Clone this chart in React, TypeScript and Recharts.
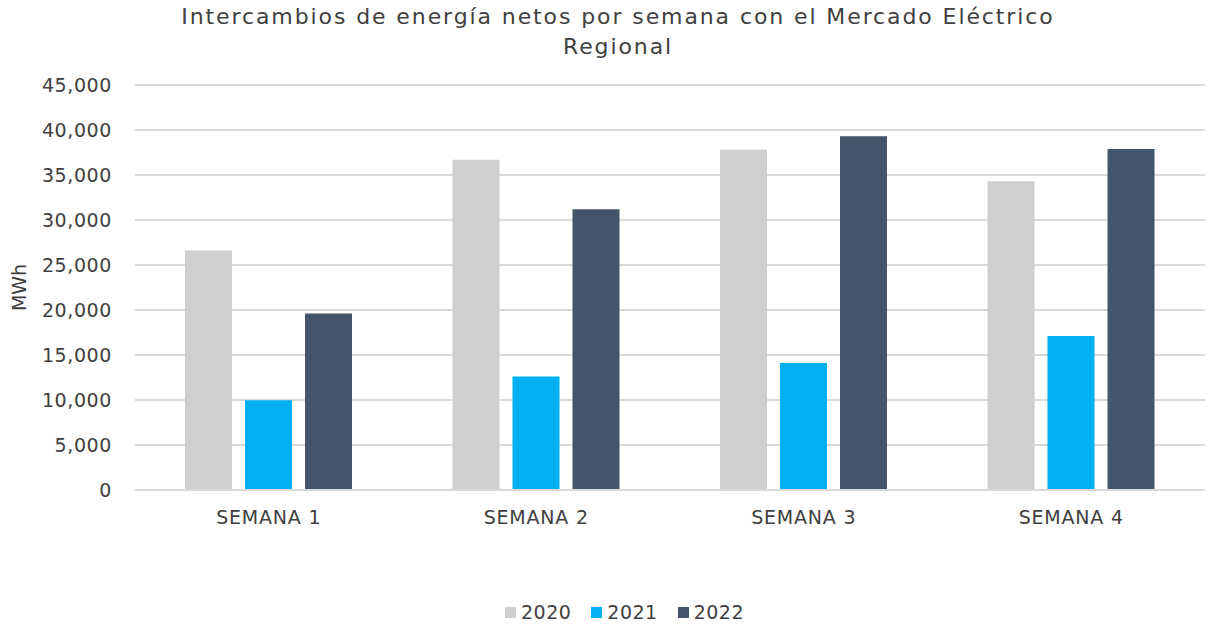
import { Bar, BarChart, CartesianGrid, Legend, XAxis, YAxis } from "recharts";

const weeks = ["SEMANA 1", "SEMANA 2", "SEMANA 3", "SEMANA 4"];
const values2020 = [26600, 36700, 37800, 34300];
const values2021 = [9970, 12600, 14100, 17100];
const values2022 = [19600, 31200, 39300, 37900];
const yTicks = [0, 5000, 10000, 15000, 20000, 25000, 30000, 35000, 40000, 45000];

const series = [
  { key: "2020", color: "#D0CECE" },
  { key: "2021", color: "#00B0F0" },
  { key: "2022", color: "#44546A" },
];

const data = weeks.map((week, i) => ({
  week,
  "2020": values2020[i],
  "2021": values2021[i],
  "2022": values2022[i],
}));

const font = "'DejaVu Sans', sans-serif";
const textColor = "#404040";

function LegendContent() {
  return (
    <div
      style={{
        display: "flex",
        justifyContent: "center",
        gap: 20,
        fontFamily: font,
        fontSize: 19,
        letterSpacing: 0.5,
        color: textColor,
        paddingLeft: 44,
      }}
    >
      {series.map((s) => (
        <span key={s.key} style={{ display: "flex", alignItems: "center", gap: 5 }}>
          <span style={{ width: 11, height: 11, background: s.color, display: "inline-block" }} />
          {s.key}
        </span>
      ))}
    </div>
  );
}

export default function App() {
  return (
    <div style={{ position: "absolute", left: 0, top: 0, width: 1209, height: 625, background: "#fff" }}>
      <div
        style={{
          position: "absolute",
          left: 163,
          width: 910,
          top: 2,
          textAlign: "center",
          fontFamily: font,
          fontSize: 22,
          letterSpacing: 1.9,
          lineHeight: "30px",
          color: textColor,
          zIndex: 1,
        }}
      >
        Intercambios de energía netos por semana con el Mercado Eléctrico Regional
      </div>
      <BarChart
        width={1209}
        height={625}
        data={data}
        margin={{ top: 85, right: 4, left: 0, bottom: 75 }}
        barSize={47}
        barGap={13}
      >
        <CartesianGrid vertical={false} stroke="#D9D9D9" strokeWidth={2} />
        <XAxis
          dataKey="week"
          tickLine={false}
          axisLine={{ stroke: "#D9D9D9", strokeWidth: 2 }}
          tick={{ fill: textColor, fontSize: 19, fontFamily: font, letterSpacing: 0.8 }}
          tickMargin={15}
        />
        <YAxis
          width={135}
          domain={[0, 45000]}
          ticks={yTicks}
          tickFormatter={(v: number) => v.toLocaleString("en-US")}
          tickLine={false}
          axisLine={false}
          tick={{ fill: textColor, fontSize: 19, fontFamily: font, letterSpacing: 0.6 }}
          tickMargin={17}
          label={{
            value: "MWh",
            angle: -90,
            position: "insideLeft",
            offset: 19,
            style: { fill: textColor, fontSize: 19, fontFamily: font, textAnchor: "middle" },
          }}
        />
        <Legend
          verticalAlign="bottom"
          height={30}
          content={<LegendContent />}
          wrapperStyle={{ top: 601, bottom: "auto" }}
        />
        {series.map((s) => (
          <Bar key={s.key} dataKey={s.key} fill={s.color} isAnimationActive={false} />
        ))}
      </BarChart>
    </div>
  );
}
